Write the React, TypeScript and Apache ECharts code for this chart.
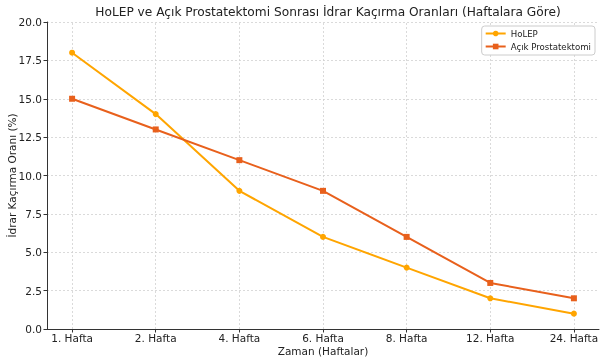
import React, { useEffect, useRef } from "react";
import * as echarts from "echarts";

const categories = ["1. Hafta", "2. Hafta", "4. Hafta", "6. Hafta", "8. Hafta", "12. Hafta", "24. Hafta"];
const holep = [18, 14, 9, 6, 4, 2, 1];
const acik = [15, 13, 11, 9, 6, 3, 2];

const FONT = "DejaVu Sans";

export default function App() {
  const ref = useRef<HTMLDivElement>(null);
  useEffect(() => {
    if (!ref.current) return;
    const chart = echarts.init(ref.current, null, { renderer: "svg" });
    const idx = categories.map((_, i) => i);
    chart.setOption({
      animation: false,
      textStyle: { fontFamily: FONT },
      title: {
        text: "HoLEP ve Açık Prostatektomi Sonrası İdrar Kaçırma Oranları (Haftalara Göre)",
        left: 328,
        textAlign: "center",
        top: 6,
        padding: 0,
        textStyle: { fontFamily: FONT, fontSize: 12.2, fontWeight: "normal", color: "#222" },
      },
      legend: {
        orient: "vertical",
        right: 10,
        top: 26,
        padding: [3, 4, 4, 3],
        itemGap: 4,
        itemWidth: 20,
        itemHeight: 7,
        backgroundColor: "#fff",
        borderColor: "#ccc",
        borderWidth: 1,
        borderRadius: 3,
        textStyle: { fontFamily: FONT, fontSize: 8.6, color: "#222" },
        data: ["HoLEP", "Açık Prostatektomi"],
      },
      grid: { left: 47, right: 6, top: 22, bottom: 33, containLabel: false, outerBoundsMode: "none" },
      xAxis: {
        type: "value",
        min: -0.3,
        max: 6.3,
        name: "Zaman (Haftalar)",
        nameLocation: "middle",
        nameGap: 16,
        nameMoveOverlap: false,
        nameTextStyle: { fontFamily: FONT, fontSize: 10.5, color: "#222" },
        axisLine: { show: true, onZero: false, lineStyle: { color: "#333", width: 1 } },
        axisTick: { show: true, customValues: idx, length: 3.5, inside: false, lineStyle: { color: "#333" } },
        axisLabel: {
          customValues: idx,
          fontFamily: FONT,
          fontSize: 10.5,
          color: "#222",
          margin: 3,
          formatter: (v: number) => categories[Math.round(v)] ?? "",
        },
        splitLine: { show: false },
      },
      yAxis: {
        type: "value",
        min: 0,
        max: 20,
        interval: 2.5,
        name: "İdrar Kaçırma Oranı (%)",
        nameLocation: "middle",
        nameGap: 30,
        nameMoveOverlap: false,
        nameTextStyle: { fontFamily: FONT, fontSize: 10.5, color: "#222" },
        axisLine: { show: true, onZero: false, lineStyle: { color: "#333", width: 1 } },
        axisTick: { show: true, length: 3.5, lineStyle: { color: "#333" } },
        axisLabel: {
          fontFamily: FONT,
          fontSize: 10.5,
          color: "#222",
          margin: 5,
          formatter: (v: number) => v.toFixed(1),
        },
        splitLine: { show: true, lineStyle: { color: "#d0d0d0", type: [2, 2], width: 0.8 } },
      },
      series: [
        {
          name: "HoLEP",
          type: "line",
          data: holep.map((v, i) => [i, v]),
          color: "#ffa500",
          lineStyle: { width: 2 },
          symbol: "circle",
          symbolSize: 6,
          z: 3,
          markLine: {
            silent: true,
            symbol: "none",
            label: { show: false },
            lineStyle: { color: "#d0d0d0", type: [2, 2], width: 0.8 },
            z: 1,
            data: idx.map((i) => ({ xAxis: i })),
          },
        },
        {
          name: "Açık Prostatektomi",
          type: "line",
          data: acik.map((v, i) => [i, v]),
          color: "#e8601c",
          lineStyle: { width: 2 },
          symbol: "rect",
          symbolSize: 6,
          z: 3,
        },
      ],
    });
    return () => chart.dispose();
  }, []);
  return <div ref={ref} style={{ position: "fixed", left: 0, top: 0, width: 605, height: 362 }} />;
}
